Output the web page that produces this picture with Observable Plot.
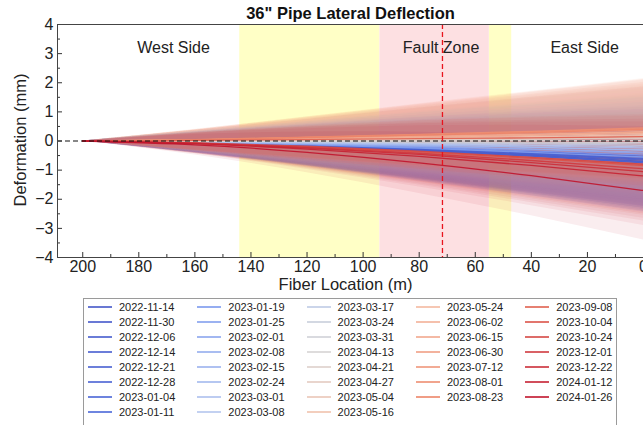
<!DOCTYPE html>
<html><head><meta charset="utf-8">
<script src="https://cdn.jsdelivr.net/npm/d3@7"></script>
<script src="https://cdn.jsdelivr.net/npm/@observablehq/plot@0.6"></script>
<style>
body{margin:0;background:#fff;font-family:"Liberation Sans",Arial,sans-serif;}
#legend{position:relative;margin-left:83px;margin-top:3px;width:534px;height:130px;border:1px solid #9a9a9a;box-sizing:border-box;
  display:grid;grid-template-columns:repeat(5,109.3px);grid-template-rows:repeat(8,15px);padding-left:4px;padding-top:0px;
  font-size:11px;color:#222;}
.item{display:flex;align-items:center;white-space:nowrap;}
.sw{display:inline-block;width:24px;height:2px;margin-right:7px;}
</style></head><body>
<div id="chart"></div>
<div id="legend"></div>
<script>
const dates = [
  "2022-11-14","2022-11-30","2022-12-06","2022-12-14","2022-12-21","2022-12-28","2023-01-04","2023-01-11",
  "2023-01-19","2023-01-25","2023-02-01","2023-02-08","2023-02-15","2023-02-24","2023-03-01","2023-03-08",
  "2023-03-17","2023-03-24","2023-03-31","2023-04-13","2023-04-21","2023-04-27","2023-05-04","2023-05-16",
  "2023-05-24","2023-06-02","2023-06-15","2023-06-30","2023-07-12","2023-08-01","2023-08-23",
  "2023-09-08","2023-10-04","2023-10-24","2023-12-01","2023-12-22","2024-01-12","2024-01-26"
];
const fiberX = [200, 160, 120, 80, 40, 0];
const deflection = [
  [0,-0.04,-0.13,-0.24,-0.39,-0.55],
  [0,-0.05,-0.16,-0.31,-0.49,-0.70],
  [0,-0.05,-0.14,-0.27,-0.43,-0.62],
  [0,-0.06,-0.17,-0.33,-0.52,-0.75],
  [0,-0.05,-0.15,-0.29,-0.46,-0.66],
  [0,-0.06,-0.17,-0.32,-0.50,-0.72],
  [0,-0.05,-0.14,-0.26,-0.42,-0.60],
  [0,-0.04,-0.12,-0.23,-0.36,-0.52],
  [0,-0.04,-0.11,-0.21,-0.34,-0.48],
  [0,-0.04,-0.13,-0.24,-0.39,-0.55],
  [0,-0.03,-0.10,-0.18,-0.29,-0.42],
  [0,-0.03,-0.09,-0.17,-0.27,-0.38],
  [0,-0.03,-0.07,-0.14,-0.22,-0.32],
  [0,-0.02,-0.07,-0.13,-0.21,-0.30],
  [0,-0.02,-0.06,-0.11,-0.17,-0.24],
  [0,-0.02,-0.05,-0.09,-0.14,-0.20],
  [0,-0.01,-0.03,-0.07,-0.10,-0.15],
  [0,-0.01,-0.02,-0.04,-0.07,-0.10],
  [0,0.00,-0.01,-0.02,-0.04,-0.05],
  [0,0.00,0.00,0.01,0.01,0.02],
  [0,0.01,0.02,0.04,0.06,0.08],
  [0,0.01,0.03,0.05,0.08,0.12],
  [0,0.01,0.04,0.08,0.13,0.18],
  [0,0.02,0.05,0.10,0.15,0.22],
  [0,0.03,0.08,0.13,0.19,0.26],
  [0,0.03,0.09,0.16,0.23,0.32],
  [0,0.03,0.09,0.15,0.22,0.30],
  [0,0.04,0.11,0.19,0.28,0.38],
  [0,0.04,0.12,0.21,0.31,0.42],
  [0,0.05,0.13,0.23,0.33,0.45],
  [0,0.04,0.12,0.20,0.29,0.40],
  [0,0.02,0.05,0.08,0.11,0.15],
  [0,-0.07,-0.20,-0.37,-0.60,-0.85],
  [0,-0.06,-0.18,-0.35,-0.56,-0.80],
  [0,-0.08,-0.22,-0.42,-0.67,-0.95],
  [0,-0.08,-0.24,-0.46,-0.74,-1.05],
  [0,-0.09,-0.28,-0.53,-0.84,-1.20],
  [0,-0.13,-0.39,-0.75,-1.19,-1.70]
];
const bandHalfWidth = [0, 0.35, 0.7, 1.05, 1.38, 1.7];
const yellowZones = [[144, 94], [55, 47]];
const pinkZones = [[94, 55]];
const faultLine = [71.7];
const zoneLabels = [
  {x: 167.6, y: 3.19, text: "West Side"},
  {x: 72.2, y: 3.19, text: "Fault Zone"},
  {x: 21, y: 3.19, text: "East Side"}
];
const xMajor = [0, 20, 40, 60, 80, 100, 120, 140, 160, 180, 200];
const xMinor = [10, 30, 50, 70, 90, 110, 130, 150, 170, 190];
const yMajor = [-4, -3, -2, -1, 0, 1, 2, 3, 4];
const yMinor = [-3.5, -2.5, -1.5, -0.5, 0.5, 1.5, 2.5, 3.5];

// colour map (blue -> grey -> red) over series order
const cAnchorIdx = [0, 7, 8, 15, 17, 19, 23, 24, 30, 31, 37];
const cAnchorCol = ["#4356c8","#4a66d8","#7a98ee","#b4c6ee","#c8cedb","#d6d3d3","#f0c2ad","#f4b9a0","#ec8468","#e0604f","#c0142c"];
const cmap = d3.scaleLinear().domain(cAnchorIdx).range(cAnchorCol).interpolate(d3.interpolateRgb);
const colorRange = dates.map((d, i) => d3.color(cmap(i)).formatHex());

const lineRows = dates.flatMap((date, i) => fiberX.map((x, j) => ({date, x, y: deflection[i][j]})));
const bandRows = dates.flatMap((date, i) => fiberX.map((x, j) => ({date, x, lo: deflection[i][j] - bandHalfWidth[j], hi: deflection[i][j] + bandHalfWidth[j]})));

const fmt = d => d < 0 ? "\u2212" + Math.abs(d) : String(d);
const frameH = 295 - 24 - 38, frameW = 643 - 57;

const chart = Plot.plot({
  width: 643, height: 295,
  marginLeft: 57, marginRight: 0, marginTop: 24, marginBottom: 38,
  style: {fontFamily: "Liberation Sans, Arial, sans-serif", fontSize: "16px", color: "#222", overflow: "visible"},
  x: {domain: [209, 0]},
  y: {domain: [-4, 4]},
  color: {type: "ordinal", domain: dates, range: colorRange},
  marks: [
    Plot.rect(yellowZones, {x1: d => d[0], x2: d => d[1], fill: "#ffffc6"}),
    Plot.rect(pinkZones, {x1: d => d[0], x2: d => d[1], fill: "#fde0e2"}),
    Plot.areaY(bandRows, {x: "x", y1: "lo", y2: "hi", z: "date", fill: "date", fillOpacity: 0.075, curve: "natural"}),
    Plot.line(lineRows, {x: "x", y: "y", z: "date", stroke: "date", strokeWidth: 1.3, strokeOpacity: 0.9, curve: "natural"}),
    Plot.ruleY([0], {stroke: "#111", strokeWidth: 1.2, strokeDasharray: "5,3"}),
    Plot.ruleX(faultLine, {stroke: "#e8141e", strokeWidth: 1.3, strokeDasharray: "5,3"}),
    Plot.text(zoneLabels, {x: "x", y: "y", text: "text", fontSize: 16, fill: "#222"}),
    Plot.ruleX(xMajor, {x: d => d, insetTop: frameH - 5, stroke: "#333"}),
    Plot.ruleX(xMinor, {x: d => d, insetTop: frameH - 3, stroke: "#333"}),
    Plot.ruleY(yMajor, {y: d => d, insetRight: frameW - 5, stroke: "#333"}),
    Plot.ruleY(yMinor, {y: d => d, insetRight: frameW - 3, stroke: "#333"}),
    Plot.frame({stroke: "#444", strokeWidth: 1}),
    Plot.axisX({ticks: xMajor, tickSize: 0, tickPadding: 3, tickFormat: fmt, label: null, fontSize: 16}),
    Plot.axisY({ticks: yMajor, tickSize: 0, tickPadding: 4, tickFormat: fmt, label: null, fontSize: 16}),
    Plot.text(["36\" Pipe Lateral Deflection"], {frameAnchor: "top", lineAnchor: "middle", dy: -11, fontWeight: "bold", fontSize: 16.5, fill: "#111"}),
    Plot.text(["Fiber Location (m)"], {frameAnchor: "bottom", lineAnchor: "middle", dy: 27, dx: -5, fontSize: 16.5, fill: "#222"}),
    Plot.text(["Deformation (mm)"], {frameAnchor: "left", textAnchor: "middle", lineAnchor: "middle", dx: -37, dy: -1, rotate: -90, fontSize: 16.5, fill: "#222"})
  ]
});
document.getElementById("chart").appendChild(chart);

const legend = document.getElementById("legend");
dates.forEach((d, i) => {
  const col = i < 24 ? Math.floor(i / 8) : 3 + Math.floor((i - 24) / 7);
  const row = i < 24 ? i % 8 : (i - 24) % 7;
  const item = document.createElement("div");
  item.className = "item";
  item.style.gridColumn = String(col + 1);
  item.style.gridRow = String(row + 1);
  const sw = document.createElement("span");
  sw.className = "sw";
  sw.style.background = colorRange[i];
  sw.style.opacity = "0.8";
  const t = document.createElement("span");
  t.textContent = d;
  item.appendChild(sw); item.appendChild(t);
  legend.appendChild(item);
});
</script>
</body></html>
